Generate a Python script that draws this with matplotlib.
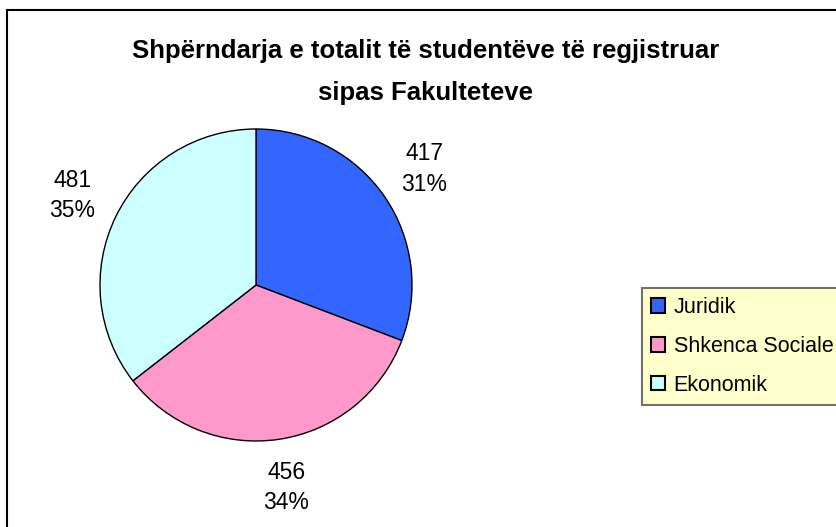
import matplotlib
matplotlib.use('Agg')
import matplotlib.pyplot as plt
from matplotlib.patches import Rectangle

# data
faculties = ["Juridik", "Shkenca Sociale", "Ekonomik"]
students = [417, 456, 481]
percents = [31, 34, 35]
colors = ["#3366FF", "#FF99CC", "#CCFFFF"]

title_lines = ["Shpërndarja e totalit të studentëve të regjistruar",
               "sipas Fakulteteve"]

W, H = 837, 527
fig = plt.figure(figsize=(W / 100, H / 100), dpi=100)
plt.rcParams['font.family'] = ['Liberation Sans', 'DejaVu Sans']

# outer chart border (right/bottom run off the picture)
fig.patches.append(Rectangle((7 / W, -0.05), 1.1, 1 - 10 / H + 0.05,
                             transform=fig.transFigure, fill=False,
                             edgecolor='black', linewidth=1.5))

# pie axes: centre (256, 285) px, radius 156 px
cx, cy, r = 256, 285, 156
ax = fig.add_axes([(cx - r) / W, (H - cy - r) / H, 2 * r / W, 2 * r / H])
labels = [f"{v}\n{p}%" for v, p in zip(students, percents)]
wedges, texts = ax.pie(students, colors=colors, startangle=90, counterclock=False,
                       labels=labels, labeldistance=1.31, radius=1,
                       wedgeprops=dict(edgecolor='black', linewidth=1))
for t in texts:
    t.set_ha('center')
    t.set_va('center')
    t.set_fontsize(16.5)
    t.set_linespacing(1.4)
ax.set_xlim(-1, 1)
ax.set_ylim(-1, 1)
ax.set_aspect('equal')

# title, one text per line at the measured baselines
for line, base in zip(title_lines, [58, 100]):
    fig.text(426 / W, 1 - base / H, line, ha='center', va='baseline',
             fontsize=18.5, fontweight='bold')

leg = fig.legend(wedges, faculties, loc='upper left',
                 bbox_to_anchor=(642 / W, 1 - 288 / H), fontsize=15.5,
                 frameon=True, fancybox=False, handlelength=0.65, handleheight=0.65,
                 handletextpad=0.4, labelspacing=0.83, borderpad=0.42,
                 borderaxespad=0)
leg.get_frame().set_facecolor('#FFFFCC')
leg.get_frame().set_edgecolor('#707070')
leg.get_frame().set_linewidth(1.5)
leg.get_frame().set_alpha(1)
for h in leg.legend_handles:
    h.set_edgecolor('black')
    h.set_linewidth(1.5)

fig.savefig('out.png', dpi=100)
